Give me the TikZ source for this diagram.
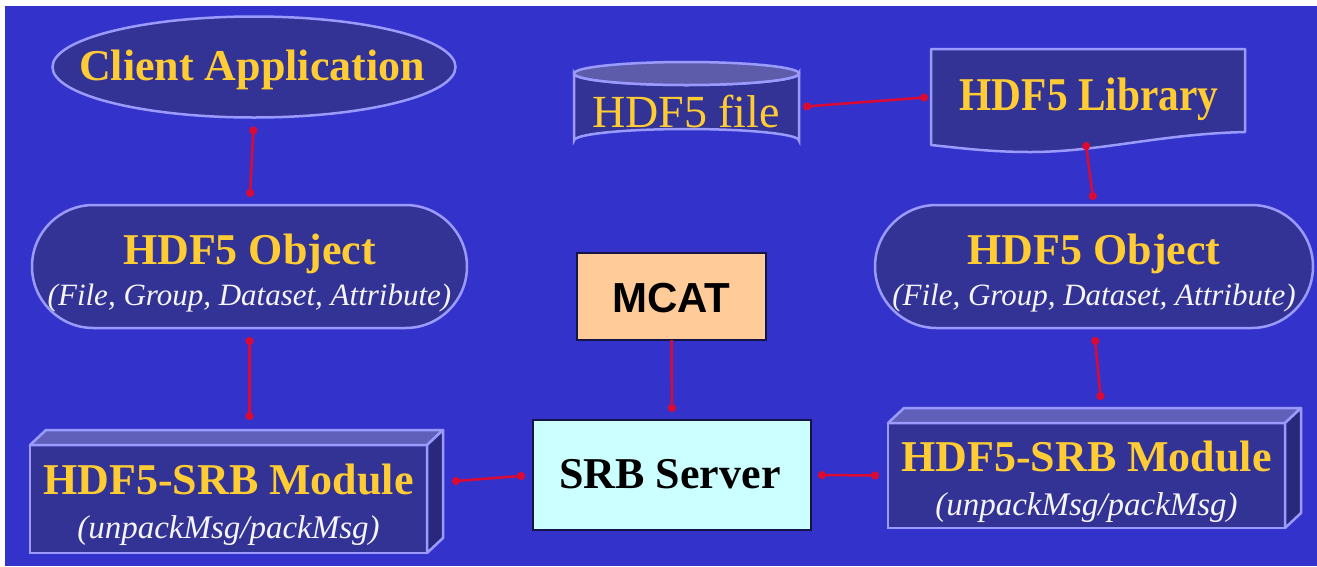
\documentclass[tikz,border=0pt]{standalone}
\usepackage{fontspec}
\setmainfont{Liberation Serif}
\setsansfont{Liberation Sans}
\newfontfamily\libfont[FakeStretch=0.88]{Liberation Serif}
\usetikzlibrary{shapes.geometric,shapes.misc,arrows.meta}
\definecolor{bgblue}{RGB}{51,51,204}
\definecolor{navy}{RGB}{51,51,150}
\definecolor{rim}{RGB}{155,155,255}
\definecolor{topface}{RGB}{96,96,187}
\definecolor{sideface}{RGB}{40,40,125}
\definecolor{cyltop}{RGB}{92,92,170}
\definecolor{gold}{RGB}{255,204,51}
\definecolor{linkred}{RGB}{220,10,50}
\definecolor{peach}{RGB}{255,204,153}
\definecolor{palecyan}{RGB}{204,255,255}
\definecolor{darkrim}{RGB}{20,20,70}
\tikzset{
  shapebox/.style={draw=rim, fill=navy, line width=2.5pt, inner sep=0pt, outer sep=0pt},
  ghost/.style={inner sep=0pt, outer sep=0pt},
  titletxt/.style={text=gold, font=\fontsize{44}{48}\selectfont\bfseries, anchor=base, inner sep=0pt},
  subtxt/.style={text=white!92!gray, font=\fontsize{31}{34}\selectfont\itshape, anchor=base, inner sep=0pt},
  plaintxt/.style={text=gold, font=\fontsize{47}{50}\selectfont, anchor=base, inner sep=0pt},
  darkbox/.style={draw=darkrim, line width=2pt, inner sep=0pt, outer sep=0pt},
  conn/.style={draw=linkred, line width=2.5pt, {Circle[length=8pt]}-{Circle[length=8pt]}},
  conndown/.style={draw=linkred, line width=2.5pt, -{Circle[length=8pt]}}
}
\begin{document}
\begin{tikzpicture}[x=1pt,y=-1pt]
\useasboundingbox (0,0) rectangle (1317,566);
\fill[white] (0,0) rectangle (1317,566);
\fill[bgblue] (5,6) rectangle (1317,566);

% Client application
\node[shapebox, ellipse, minimum width=403, minimum height=101] (client) at (254,67) {};
\node[titletxt] (clientlbl) at (252,80) {Client Application};

% Left HDF5 object
\node[shapebox, rounded rectangle, minimum width=435, minimum height=123] (objL) at (249.5,266.5) {};
\node[titletxt] (objLt) at (249.5,264.5) {HDF5 Object};
\node[subtxt] (objLs) at (249.5,305) {(File, Group, Dataset, Attribute)};

% Right HDF5 object
\node[shapebox, rounded rectangle, minimum width=438, minimum height=123] (objR) at (1094,266.5) {};
\node[titletxt] (objRt) at (1094,264.5) {HDF5 Object};
\node[subtxt] (objRs) at (1094,305) {(File, Group, Dataset, Attribute)};

% Left module (3D box)
\node[shapebox, minimum width=397, minimum height=108] (modL) at (228.5,499) {};
\fill[topface, draw=rim, line width=2.5pt, line join=round] (modL.north west) -- ([shift={(16,-15)}]modL.north west) -- ([shift={(16,-15)}]modL.north east) -- (modL.north east) -- cycle;
\fill[sideface, draw=rim, line width=2.5pt, line join=round] (modL.north east) -- ([shift={(16,-15)}]modL.north east) -- ([shift={(16,-15)}]modL.south east) -- (modL.south east) -- cycle;
\node[titletxt] (modLt) at (228.5,494) {HDF5-SRB Module};
\node[subtxt, font=\fontsize{33}{36}\selectfont\itshape] (modLs) at (228.5,538) {(unpackMsg/packMsg)};

% Right module (3D box)
\node[shapebox, minimum width=397, minimum height=105] (modR) at (1086.5,475.5) {};
\fill[topface, draw=rim, line width=2.5pt, line join=round] (modR.north west) -- ([shift={(16,-15)}]modR.north west) -- ([shift={(16,-15)}]modR.north east) -- (modR.north east) -- cycle;
\fill[sideface, draw=rim, line width=2.5pt, line join=round] (modR.north east) -- ([shift={(16,-15)}]modR.north east) -- ([shift={(16,-15)}]modR.south east) -- (modR.south east) -- cycle;
\node[titletxt] (modRt) at (1086.5,471) {HDF5-SRB Module};
\node[subtxt, font=\fontsize{33}{36}\selectfont\itshape] (modRs) at (1086.5,515) {(unpackMsg/packMsg)};

% MCAT and SRB server
\node[darkbox, fill=peach, minimum width=189, minimum height=87] (mcat) at (671.5,296.5) {};
\node[anchor=base, inner sep=0pt, font=\fontsize{42}{46}\selectfont\sffamily\bfseries] (mcatlbl) at (671.5,312) {MCAT};
\node[darkbox, fill=palecyan, minimum width=278, minimum height=110] (srb) at (672,475) {};
\node[anchor=base, inner sep=0pt, font=\fontsize{44}{48}\selectfont\bfseries] (srblbl) at (670,488) {SRB Server};

% HDF5 file (cylinder)
\node[ghost, minimum width=225, minimum height=90] (file) at (686.5,107) {};
\path[fill=navy, draw=rim, line width=2.5pt] (574,73.5) -- (574,140.5) arc[start angle=180, end angle=360, x radius=112.5, y radius=11.5] -- (799,73.5) arc[start angle=0, end angle=180, x radius=112.5, y radius=11.5] -- cycle;
\path[fill=cyltop, draw=rim, line width=2.5pt] (686.5,73.5) ellipse[x radius=112.5, y radius=11.5];
\node[plaintxt, font=\fontsize{46}{50}\selectfont] (filelbl) at (686,127) {HDF5 file};

% HDF5 library (document shape)
\node[ghost, minimum width=314, minimum height=96] (lib) at (1088,97) {};
\path[fill=navy, draw=rim, line width=2.5pt, line join=round] (931,49) -- (1245,49) -- (1245,132) .. controls (1160,134) and (1100,152) .. (1030,152) .. controls (990,152) and (960,148) .. (931,145) -- cycle;
\node[plaintxt, font=\fontsize{47}{50}\libfont\bfseries] (liblbl) at (1089,110) {HDF5 Library};

% connectors
\draw[conn, shorten <=9pt, shorten >=8pt] (client.south) -- (objL.north);
\draw[conn, shorten <=9pt, shorten >=25pt] (objL.south) -- (objL.south |- modL.north);
\draw[conn, shorten <=9pt, shorten >=8pt] ([shift={(16,-17)}]modL.east) -- (srb.west);
\draw[conndown, shorten >=8pt] (mcat.south) -- (srb.north);
\draw[conn, shorten <=7pt, shorten >=9pt] (srb.east) -- (modR.west);
\draw[conn, shorten <=9pt, shorten >=7pt] (objR.south) -- ([shift={(15,-16)}]modR.north);
\draw[conn, shorten <=4pt, shorten >=3pt] (file.east) -- (lib.west);
\draw[conn, shorten <=-3pt, shorten >=5pt] ([xshift=-2pt]lib.south) -- (objR.north);
\end{tikzpicture}
\end{document}
